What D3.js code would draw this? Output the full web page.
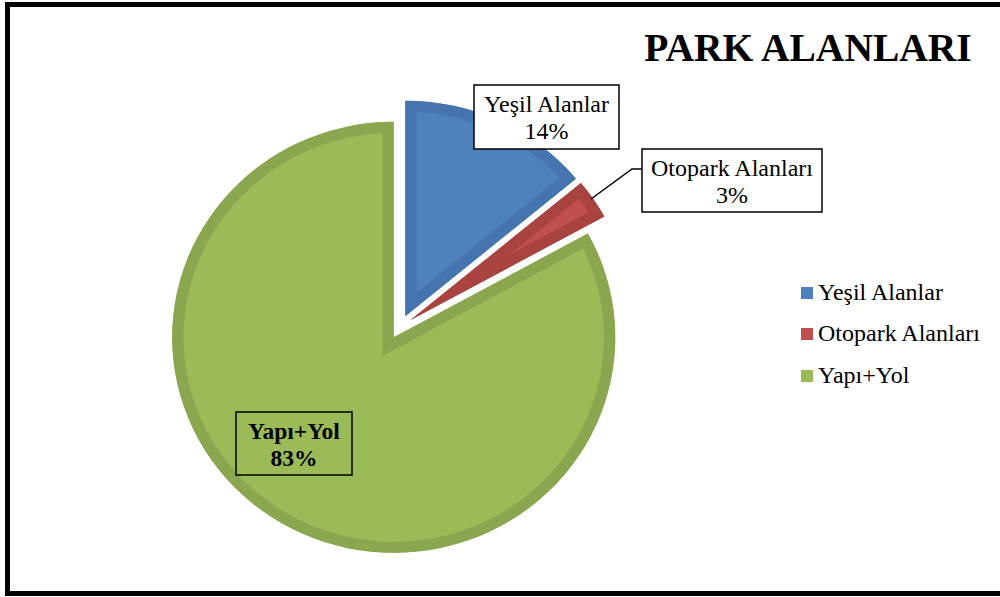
<!DOCTYPE html>
<html>
<head>
<meta charset="utf-8">
<script src="https://cdn.jsdelivr.net/npm/d3@7"></script>
<style>
  html, body { margin: 0; padding: 0; background: #fff; }
  svg { display: block; }
  text { font-family: "Liberation Serif", "Times New Roman", serif; fill: #000; }
</style>
</head>
<body>
<svg id="chart" width="1000" height="597"></svg>
<script>
// ---- data ----
const title = "PARK ALANLARI";
const categories = ["Yeşil Alanlar", "Otopark Alanları", "Yapı+Yol"];
const values = [14, 3, 83];
const percentLabels = ["14%", "3%", "83%"];
const fillColors = ["#4F81BD", "#C0504D", "#9BBB59"];
const strokeColors = ["#4674AE", "#A9433F", "#8AA750"];

// ---- layout ----
const W = 1000, H = 597;
const svg = d3.select("#chart");
const cx = 400, cy = 327;
const R = 215.5, sx = 1.028, explode = 12, innerStroke = 11;

// frame
svg.append("path")
  .attr("d", `M1005,4.5 L7.5,4.5 L7.5,593.5 L1005,593.5`)
  .attr("fill", "none").attr("stroke", "#000").attr("stroke-width", 5);

// pie
const pie = d3.pie().sort(null).value(d => d);
const arc = d3.arc().innerRadius(0).outerRadius(R);
const arcs = pie(values);

const defs = svg.append("defs");
const g = svg.append("g").attr("transform", `translate(${cx},${cy}) scale(${sx},1)`);

arcs.forEach((a, i) => {
  const mid = (a.startAngle + a.endAngle) / 2;
  const dx = explode * Math.sin(mid), dy = -explode * Math.cos(mid);
  const d = arc(a);
  defs.append("clipPath").attr("id", "clip" + i).append("path").attr("d", d);
  const sg = g.append("g").attr("transform", `translate(${dx},${dy})`);
  sg.append("path").attr("d", d).attr("fill", fillColors[i]);
  sg.append("path").attr("d", d)
    .attr("fill", "none")
    .attr("stroke", strokeColors[i])
    .attr("stroke-width", innerStroke * 2)
    .attr("stroke-linejoin", "miter")
    .attr("clip-path", `url(#clip${i})`);
});

// title
svg.append("text").attr("x", 808).attr("y", 61)
  .attr("text-anchor", "middle")
  .style("font-size", "39.5px").style("font-weight", "bold")
  .text(title);

// data labels
const labelBoxes = [
  { x: 474, y: 85, w: 145, h: 64, bold: false },
  { x: 642, y: 149, w: 180, h: 63, bold: false },
  { x: 236, y: 412, w: 116, h: 63, bold: true }
];
// leader line for small slice
svg.append("polyline")
  .attr("points", "591,199 632,169 642,169")
  .attr("fill", "none").attr("stroke", "#000").attr("stroke-width", 1.5);

labelBoxes.forEach((b, i) => {
  svg.append("rect").attr("x", b.x).attr("y", b.y).attr("width", b.w).attr("height", b.h)
    .attr("fill", i === 2 ? "none" : "#fff")
    .attr("stroke", "#000").attr("stroke-width", 1.5);
  const t = svg.append("text")
    .attr("text-anchor", "middle")
    .style("font-size", b.bold ? "23.5px" : "24px")
    .style("font-weight", b.bold ? "bold" : "normal");
  t.append("tspan").attr("x", b.x + b.w / 2).attr("y", b.y + 27).text(categories[i]);
  t.append("tspan").attr("x", b.x + b.w / 2).attr("y", b.y + 54).text(percentLabels[i]);
});

// legend
const legendY = [300, 341, 383];
categories.forEach((c, i) => {
  svg.append("rect").attr("x", 801).attr("y", legendY[i] - 13).attr("width", 12).attr("height", 12)
    .attr("fill", fillColors[i]);
  svg.append("text").attr("x", 818).attr("y", legendY[i])
    .style("font-size", "24px").text(c);
});
</script>
</body>
</html>
